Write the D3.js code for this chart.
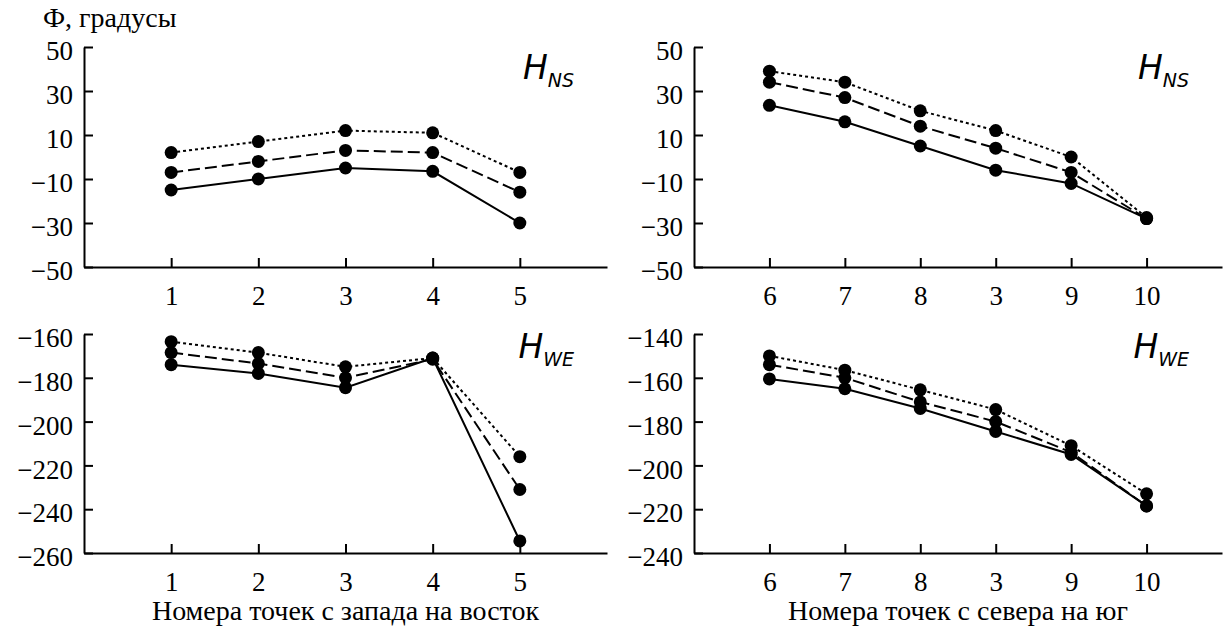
<!DOCTYPE html>
<html>
<head>
<meta charset="utf-8">
<script src="https://cdn.jsdelivr.net/npm/d3@7"></script>
<style>
  body { margin: 0; background: #fff; }
  svg text { fill: #000; }
</style>
</head>
<body>
<svg id="chart" width="1227" height="630"></svg>
<script>
// point labels along each profile
var westEast = ["1", "2", "3", "4", "5"];
var northSouth = ["6", "7", "8", "3", "9", "10"];

// H_NS phase, west -> east (solid, dashed, dotted)
var nsWE_solid  = [-15, -10, -5, -6.5, -30];
var nsWE_dashed = [-7, -2, 3, 2, -16];
var nsWE_dotted = [2, 7, 12, 11, -7];

// H_NS phase, north -> south
var nsNS_solid  = [23.5, 16, 5, -6, -12, -28];
var nsNS_dashed = [34, 27, 14, 4, -7, -28];
var nsNS_dotted = [39, 34, 21, 12, 0, -27.5];

// H_WE phase, west -> east
var weWE_solid  = [-174, -178, -184.5, -171, -254.5];
var weWE_dashed = [-168.5, -173.5, -180, -171.5, -231];
var weWE_dotted = [-163.5, -168.5, -175, -171, -216];

// H_WE phase, north -> south
var weNS_solid  = [-160.5, -165, -174, -184.5, -195, -218.5];
var weNS_dashed = [-154, -160, -171, -180, -194, -218.5];
var weNS_dotted = [-150, -156.5, -165.5, -174.5, -191, -213];

var ticksNS = [50, 30, 10, -10, -30, -50];
var ticksWE_left = [-160, -180, -200, -220, -240, -260];
var ticksWE_right = [-140, -160, -180, -200, -220, -240];

var svg = d3.select("#chart");
var serif = "Liberation Serif";
var minus = function(v) { return String(v).replace("-", "\u2212"); };

var styles = [
    { key: "solid", dash: null },
    { key: "dashed", dash: "12,5" },
    { key: "dotted", dash: "3,3" }
];

function panel(opts) {
    var x = d3.scaleLinear().domain([0, opts.cats.length + 1]).range(opts.xr);
    var y = d3.scaleLinear().domain(opts.yd).range(opts.yr);
    var g = svg.append("g");

    var xa = g.append("g")
        .attr("transform", "translate(0," + opts.yr[0] + ")")
        .call(d3.axisBottom(x)
            .tickValues(d3.range(1, opts.cats.length + 1))
            .tickFormat(function(d) { return opts.cats[d - 1]; })
            .tickSize(-9).tickSizeOuter(0).tickPadding(19));

    var ya = g.append("g")
        .attr("transform", "translate(" + opts.xr[0] + ",0)")
        .call(d3.axisLeft(y)
            .tickValues(opts.ticks)
            .tickFormat(minus)
            .tickSize(-9).tickSizeOuter(0).tickPadding(11));
    ya.selectAll("text").attr("dy", "0.47em");

    [xa, ya].forEach(function(a) {
        a.attr("font-family", serif).attr("font-size", 27);
        a.selectAll("path, line").attr("stroke", "#000").attr("stroke-width", 2);
        a.selectAll("text").attr("fill", "#000");
    });

    var line = d3.line()
        .x(function(d, i) { return x(i + 1); })
        .y(function(d) { return y(d); });

    styles.forEach(function(s) {
        var vals = opts.series[s.key];
        g.append("path")
            .datum(vals)
            .attr("d", line)
            .attr("fill", "none")
            .attr("stroke", "#000")
            .attr("stroke-width", 2)
            .attr("stroke-dasharray", s.dash);
        g.selectAll(null)
            .data(vals)
            .enter().append("circle")
            .attr("cx", function(d, i) { return x(i + 1); })
            .attr("cy", function(d) { return y(d); })
            .attr("r", 6.5)
            .attr("fill", "#000");
    });

    var t = g.append("text")
        .attr("x", opts.xr[1] - 33)
        .attr("y", opts.yr[1] + opts.hy)
        .attr("text-anchor", "end")
        .attr("font-family", "DejaVu Sans")
        .attr("font-style", "italic")
        .attr("font-size", 33);
    t.append("tspan").text("H");
    t.append("tspan").attr("dy", 8).attr("font-size", 19).text(opts.sub);

    if (opts.title) {
        g.append("text")
            .attr("x", (opts.xr[0] + opts.xr[1]) / 2)
            .attr("y", opts.yr[0] + 67)
            .attr("text-anchor", "middle")
            .attr("font-family", serif)
            .attr("font-size", 28)
            .text(opts.title);
    }
}

panel({ cats: westEast, xr: [84, 607], yr: [267, 47], yd: [-50, 50], ticks: ticksNS,
        series: { solid: nsWE_solid, dashed: nsWE_dashed, dotted: nsWE_dotted }, sub: "NS", hy: 32 });
panel({ cats: northSouth, xr: [694, 1222], yr: [267, 47], yd: [-50, 50], ticks: ticksNS,
        series: { solid: nsNS_solid, dashed: nsNS_dashed, dotted: nsNS_dotted }, sub: "NS", hy: 32 });
panel({ cats: westEast, xr: [84, 607], yr: [553, 334], yd: [-260, -160], ticks: ticksWE_left,
        series: { solid: weWE_solid, dashed: weWE_dashed, dotted: weWE_dotted }, sub: "WE", hy: 24,
        title: "Номера точек с запада на восток" });
panel({ cats: northSouth, xr: [694, 1222], yr: [553, 334], yd: [-240, -140], ticks: ticksWE_right,
        series: { solid: weNS_solid, dashed: weNS_dashed, dotted: weNS_dotted }, sub: "WE", hy: 24,
        title: "Номера точек с севера на юг" });

svg.append("text")
    .attr("x", 43)
    .attr("y", 27)
    .attr("font-family", serif)
    .attr("font-size", 28)
    .text("Ф, градусы");
</script>
</body>
</html>
